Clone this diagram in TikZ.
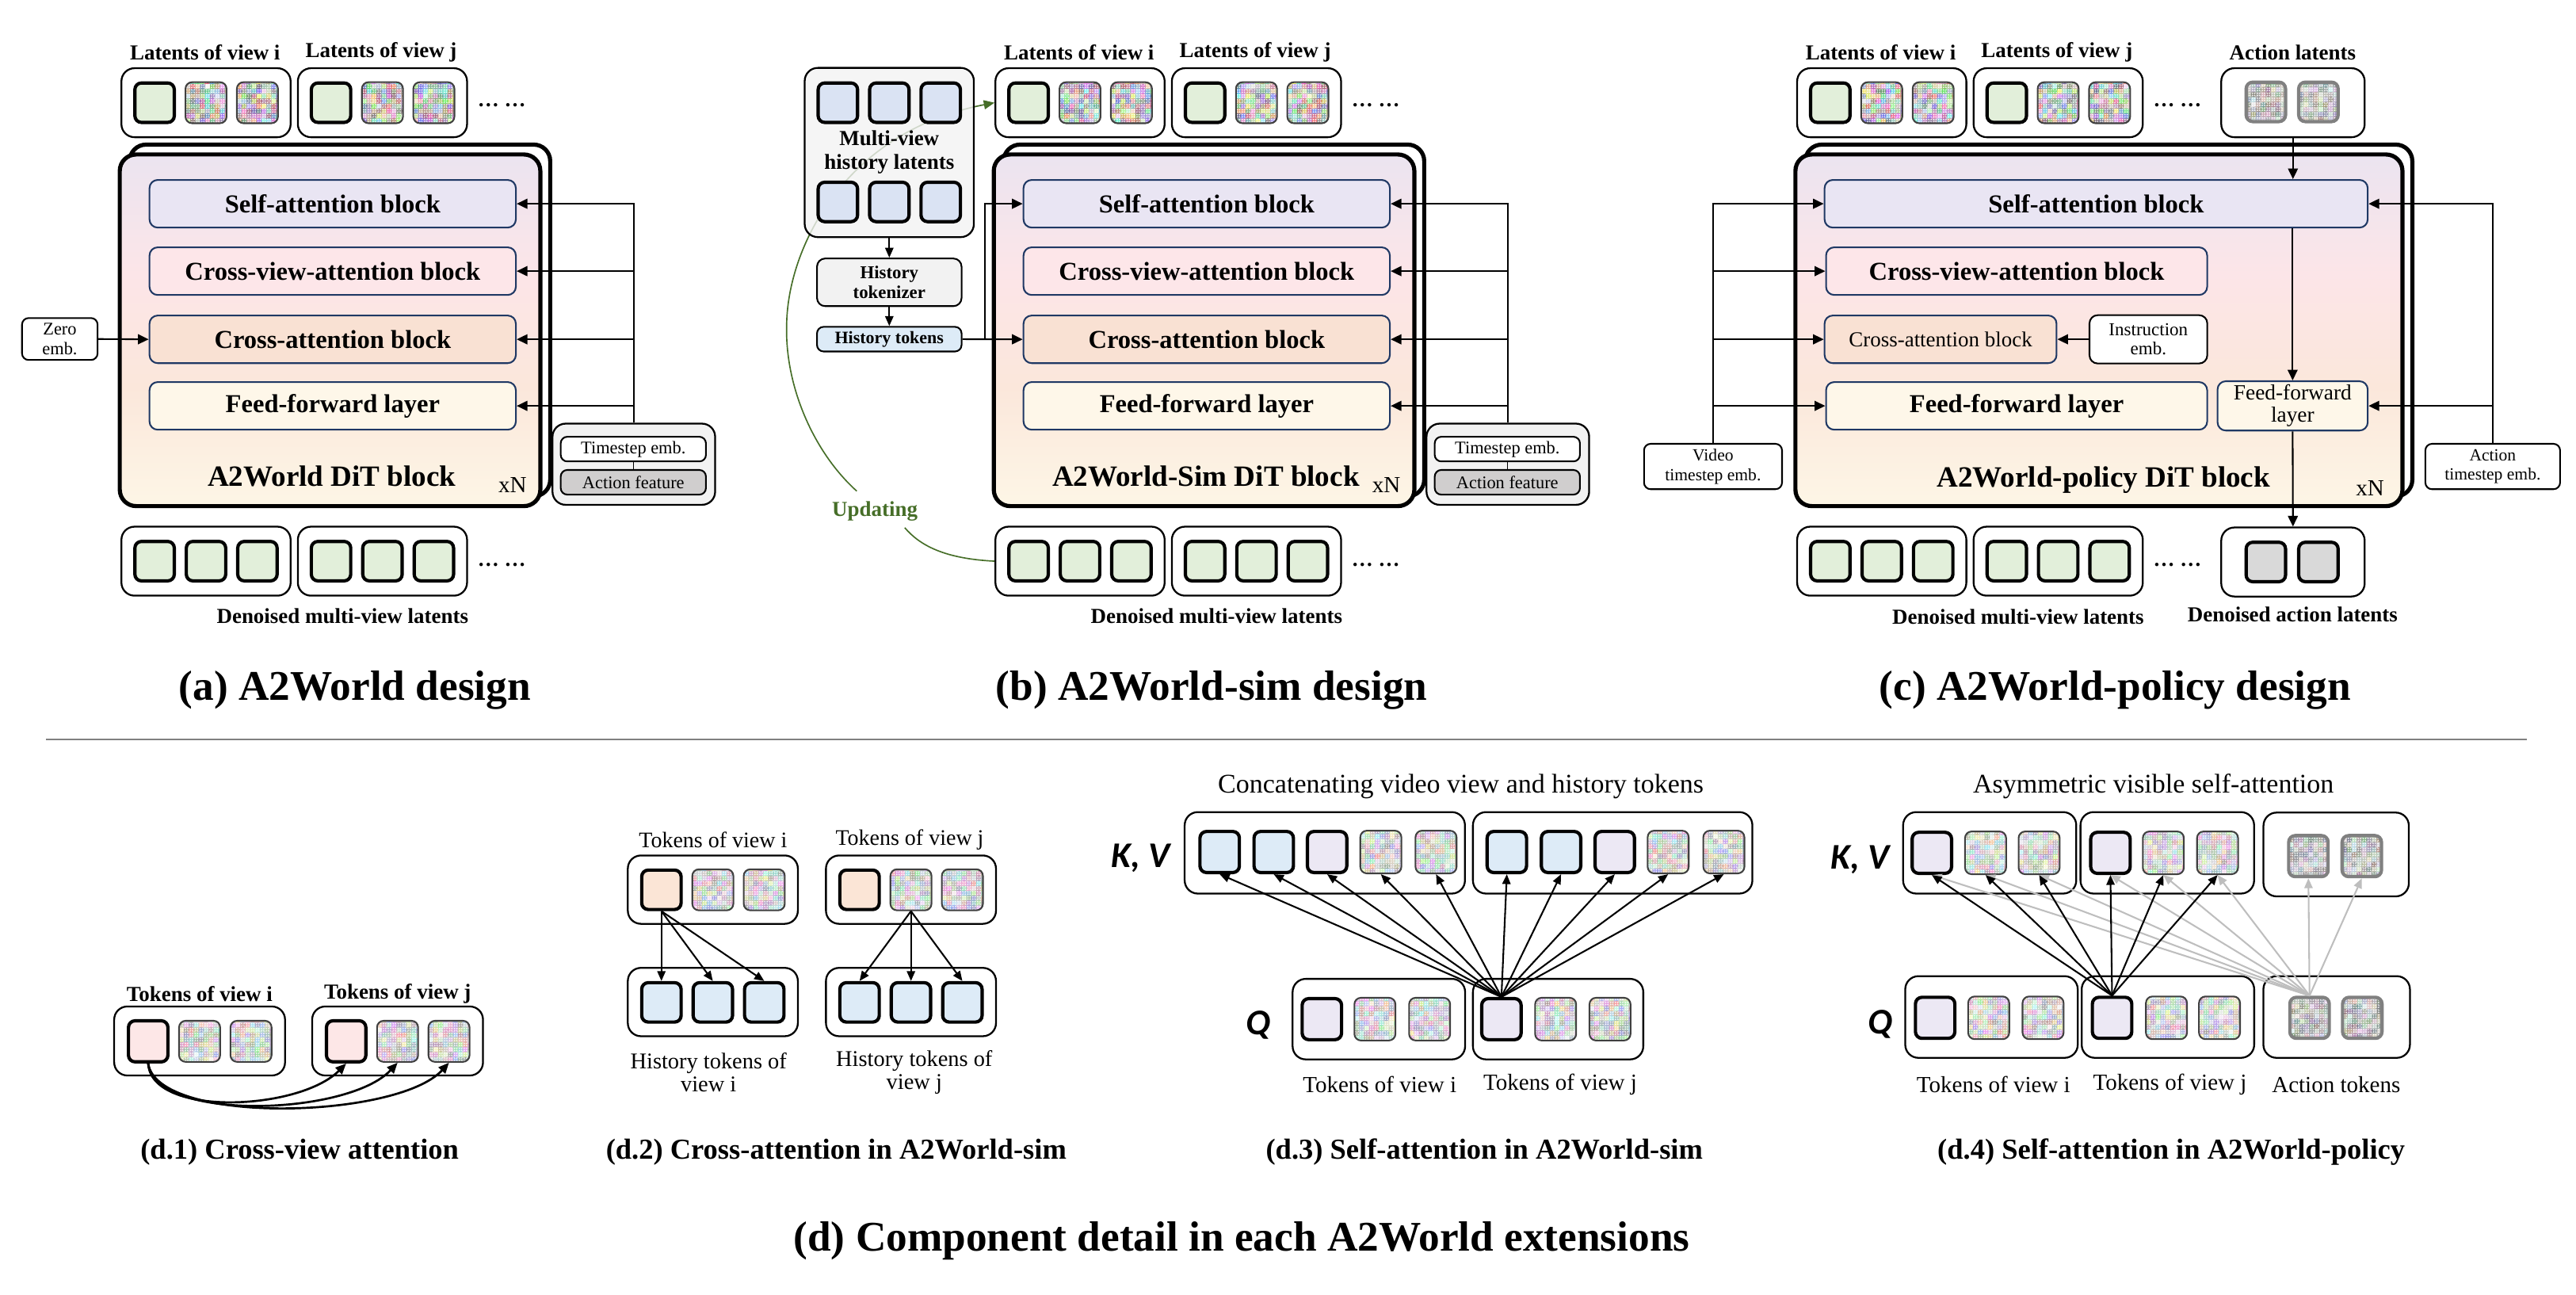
\documentclass[tikz,border=0pt]{standalone}
\usepackage{fontspec}
\setmainfont{Liberation Serif}
\newfontfamily\kvfont{Carlito}
\usetikzlibrary{arrows.meta, positioning, calc}

\definecolor{navy}{RGB}{31,56,100}
\definecolor{latgreen}{RGB}{226,239,218}
\definecolor{histblue}{RGB}{218,227,243}
\definecolor{tokblue}{RGB}{221,235,247}
\definecolor{peachtok}{RGB}{251,229,214}
\definecolor{pinktok}{RGB}{253,231,231}
\definecolor{lavtok}{RGB}{236,232,244}
\definecolor{panelgray}{RGB}{242,242,242}
\definecolor{featgray}{RGB}{208,206,206}
\definecolor{dagray}{RGB}{217,217,217}
\definecolor{updgreen}{RGB}{70,110,40}
\definecolor{lightarr}{RGB}{190,190,190}
\definecolor{rulegray}{RGB}{128,128,128}
\definecolor{saFill}{RGB}{233,229,243}
\definecolor{cvFill}{RGB}{253,230,233}
\definecolor{caFill}{RGB}{249,225,211}
\definecolor{ffFill}{RGB}{254,247,233}
\definecolor{ditlav}{RGB}{235,228,240}
\definecolor{ditpink}{RGB}{252,229,232}
\definecolor{ditpeach}{RGB}{251,231,219}
\definecolor{ditcream}{RGB}{253,246,230}

\pgfdeclareverticalshading{ditshade}{100bp}{color(0bp)=(ditcream); color(25bp)=(ditcream); color(42bp)=(ditpeach); color(58bp)=(ditpink); color(75bp)=(ditlav); color(100bp)=(ditlav)}

\tikzset{
  noise/.style={path picture={
      \foreach \ii in {0,...,8}{\foreach \jj in {0,...,8}{
          \pgfmathsetmacro{\nzr}{#1+(0.97-#1)*rnd}
          \pgfmathsetmacro{\nzg}{#1+(0.97-#1)*rnd}
          \pgfmathsetmacro{\nzb}{#1+(0.97-#1)*rnd}
          \definecolor{nzc}{rgb}{\nzr,\nzg,\nzb}
          \fill[nzc] ([shift={(\ii*3pt,\jj*3pt)}]path picture bounding box.south west) rectangle ++(3.1pt,3.1pt);
      }}}},
  noise/.default=0.4,
  gnoise/.style={path picture={
      \foreach \ii in {0,...,8}{\foreach \jj in {0,...,8}{
          \pgfmathsetmacro{\nzk}{0.45+0.3*rnd}
          \pgfmathsetmacro{\nzr}{min(1,\nzk+0.2*rnd)}
          \pgfmathsetmacro{\nzg}{min(1,\nzk+0.2*rnd)}
          \pgfmathsetmacro{\nzb}{min(1,\nzk+0.2*rnd)}
          \definecolor{nzc}{rgb}{\nzr,\nzg,\nzb}
          \fill[nzc] ([shift={(\ii*3pt,\jj*3pt)}]path picture bounding box.south west) rectangle ++(3.1pt,3.1pt);
      }}}}
}

\pgfmathsetseed{11}

\begin{document}
\begin{tikzpicture}[
  x = 1pt, y = -1pt,
  every node/.style = {inner sep=0pt},
  lblb/.style   = {font=\fontsize{13}{15}\selectfont\bfseries},
  lblr/.style   = {font=\fontsize{#1}{16}\selectfont},
  dots/.style   = {font=\fontsize{13}{15}\selectfont\bfseries},
  ttl/.style    = {font=\fontsize{25.7}{30}\selectfont\bfseries},
  subcap/.style = {font=\fontsize{17.6}{20}\selectfont\bfseries},
  kv/.style     = {font=\kvfont\fontsize{22}{26}\selectfont\bfseries\itshape},
  tbase/.style  = {rectangle, rounded corners=4pt, minimum width=24pt,
                   minimum height=24pt, inner sep=0pt},
  ftile/.style  = {tbase, draw=black, line width=2pt, fill=#1},
  ntile/.style  = {tbase, draw=black!75, line width=1pt, minimum width=25pt,
                   minimum height=25pt, noise=#1},
  ntile/.default = 0.4,
  atile/.style  = {tbase, draw=black!50, line width=2pt, gnoise},
  grp/.style    = {rectangle, draw=black, line width=1.1pt, rounded corners=8pt,
                   fill=white, minimum width=103pt, minimum height=42pt},
  blk/.style    = {rectangle, draw=navy, line width=1pt, rounded corners=5pt,
                   minimum width=223pt, minimum height=29pt,
                   font=\fontsize{15.7}{17}\selectfont\bfseries},
  embox/.style  = {rectangle, draw=black, line width=1pt, rounded corners=4pt,
                   fill=white, align=center, font=\fontsize{10.8}{11.8}\selectfont},
  ditback/.style  = {rectangle, draw=black, line width=2.5pt, rounded corners=10pt,
                     fill=white, minimum width=256pt, minimum height=214pt},
  ditfront/.style = {ditback, shade, shading=ditshade},
  dittl/.style  = {font=\fontsize{17.9}{20}\selectfont\bfseries},
  xn/.style     = {font=\fontsize{14}{16}\selectfont},
  arr/.style    = {-{Triangle[length=6.5pt, width=6pt]}, line width=1pt},
  sarr/.style   = {-{Triangle[length=6pt, width=5pt]}, line width=1pt},
  larr/.style   = {-{Triangle[length=6pt, width=5pt]}, line width=1pt, draw=lightarr},
  carr/.style   = {-{Triangle[length=6.5pt, width=5.5pt]}, line width=1.3pt},
  updarr/.style = {-{Triangle[length=6.5pt, width=5.5pt]}, draw=updgreen, line width=0.8pt}
]
\useasboundingbox (0,0) rectangle (1568,788);

% ================= (a) A2World design =================
\node[lblb] (aLi) at (124.8,32) {Latents of view i};
\node[lblb] (aLj) at (232,32) {Latents of view j};
\node[grp] (aTi) at (125.4,62.5) {};
\node[grp] (aTj) at (232.8,62.5) {};
\node[ftile=latgreen] (aTi1) at (94.1,62.5) {};
\node[ntile] (aTi2) at (125.4,62.5) {};
\node[ntile] (aTi3) at (156.7,62.5) {};
\node[ftile=latgreen] (aTj1) at (201.5,62.5) {};
\node[ntile] (aTj2) at (232.8,62.5) {};
\node[ntile] (aTj3) at (264.1,62.5) {};
\node[dots] (aTd) at (305.4,64) {\ldots\ \ldots};

\node[ditback]  (aDitB) at (206.9,195) {};
\node[ditfront] (aDit)  at (200.9,201) {};
\node[blk, fill=saFill] (aSA) at (202.5,124)   {Self-attention block};
\node[blk, fill=cvFill] (aCV) at (202.5,165)   {Cross-view-attention block};
\node[blk, fill=caFill] (aCA) at (202.5,206.5) {Cross-attention block};
\node[blk, fill=ffFill] (aFF) at (202.5,247)   {Feed-forward layer};
\node[dittl] (aName) at (202,290) {A2World DiT block};
\node[xn] (aXN) at (312,295) {xN};

\node[embox, minimum width=46pt, minimum height=25.5pt] (aZero) at (36.4,206.3) {Zero\\emb.};
\draw[arr] (aZero.east) -- (aCA.west);

\node[grp, fill=panelgray, minimum width=99pt, minimum height=49.4pt] (aGrp) at (385.8,282.5) {};
\node[embox, minimum width=88.4pt, minimum height=15pt] (aTs) at (385.5,273.3) {Timestep emb.};
\node[embox, fill=featgray, minimum width=88.4pt, minimum height=15pt] (aAf) at (385.5,293.5) {Action feature};
\draw (aTs.south) -- (aAf.north);
\draw[arr] (aGrp.north) |- (aSA.east);
\draw[arr] (aGrp.north |- aCV.east) -- (aCV.east);
\draw[arr] (aGrp.north |- aCA.east) -- (aCA.east);
\draw[arr] (aGrp.north |- aFF.east) -- (aFF.east);

\node[grp] (aBi) at (125.4,341.5) {};
\node[grp] (aBj) at (232.8,341.5) {};
\node[ftile=latgreen] (aBi1) at (94.1,341.5) {};
\node[ftile=latgreen] (aBi2) at (125.4,341.5) {};
\node[ftile=latgreen] (aBi3) at (156.7,341.5) {};
\node[ftile=latgreen] (aBj1) at (201.5,341.5) {};
\node[ftile=latgreen] (aBj2) at (232.8,341.5) {};
\node[ftile=latgreen] (aBj3) at (264.1,341.5) {};
\node[dots] (aBd) at (305.4,343.5) {\ldots\ \ldots};
\node[lblb] (aDen) at (208.5,375) {Denoised multi-view latents};
\node[ttl] (aCap) at (216,420) {(a) A2World design};

% ================= (b) A2World-sim design =================
\node[lblb] (bLi) at (656.8,32) {Latents of view i};
\node[lblb] (bLj) at (764,32) {Latents of view j};
\node[grp] (bTi) at (657.4,62.5) {};
\node[grp] (bTj) at (764.8,62.5) {};
\node[ftile=latgreen] (bTi1) at (626.1,62.5) {};
\node[ntile] (bTi2) at (657.4,62.5) {};
\node[ntile] (bTi3) at (688.7,62.5) {};
\node[ftile=latgreen] (bTj1) at (733.5,62.5) {};
\node[ntile] (bTj2) at (764.8,62.5) {};
\node[ntile] (bTj3) at (796.1,62.5) {};
\node[dots] (bTd) at (837.4,64) {\ldots\ \ldots};

\node[ditback]  (bDitB) at (738.9,195) {};
\node[ditfront] (bDit)  at (732.9,201) {};
\node[blk, fill=saFill] (bSA) at (734.5,124)   {Self-attention block};
\node[blk, fill=cvFill] (bCV) at (734.5,165)   {Cross-view-attention block};
\node[blk, fill=caFill] (bCA) at (734.5,206.5) {Cross-attention block};
\node[blk, fill=ffFill] (bFF) at (734.5,247)   {Feed-forward layer};
\node[dittl] (bName) at (734,290) {A2World-Sim DiT block};
\node[xn] (bXN) at (843.8,295.4) {xN};

\node[grp, fill=panelgray, minimum width=99pt, minimum height=49.4pt] (bGrp) at (917.8,282.5) {};
\node[embox, minimum width=88.4pt, minimum height=15pt] (bTs) at (917.5,273.3) {Timestep emb.};
\node[embox, fill=featgray, minimum width=88.4pt, minimum height=15pt] (bAf) at (917.5,293.5) {Action feature};
\draw (bTs.south) -- (bAf.north);
\draw[arr] (bGrp.north) |- (bSA.east);
\draw[arr] (bGrp.north |- bCV.east) -- (bCV.east);
\draw[arr] (bGrp.north |- bCA.east) -- (bCA.east);
\draw[arr] (bGrp.north |- bFF.east) -- (bFF.east);

\node[grp] (bBi) at (657.4,341.5) {};
\node[grp] (bBj) at (764.8,341.5) {};
\node[ftile=latgreen] (bBi1) at (626.1,341.5) {};
\node[ftile=latgreen] (bBi2) at (657.4,341.5) {};
\node[ftile=latgreen] (bBi3) at (688.7,341.5) {};
\node[ftile=latgreen] (bBj1) at (733.5,341.5) {};
\node[ftile=latgreen] (bBj2) at (764.8,341.5) {};
\node[ftile=latgreen] (bBj3) at (796.1,341.5) {};
\node[dots] (bBd) at (837.4,343.5) {\ldots\ \ldots};
\node[lblb] (bDen) at (740.5,375) {Denoised multi-view latents};
\node[ttl] (bCap) at (737.5,420) {(b) A2World-sim design};

% updating loop runs under the history panel
\node[lblb, text=updgreen] (bUpd) at (532.5,311) {Updating};
\draw[updgreen, line width=0.8pt] (bBi.west) .. controls (575,340) and (560,332) .. ($(bUpd.south east)+(-8,4)$);
\draw[updarr] ($(bUpd.north)+(-11,-6)$) .. controls (495,275) and (478,235) .. (478.8,198.7)
  .. controls (479,150) and (515,80) .. (bTi.west);

\node[grp, fill=panelgray, fill opacity=0.8, text opacity=1, minimum width=103pt,
      minimum height=103pt, align=center, font=\fontsize{13}{14.5}\selectfont\bfseries]
      (bHist) at (541.3,92.8) {Multi-view\\history latents};
\node[ftile=histblue] (bHt1) at (510,62.5) {};
\node[ftile=histblue] (bHt2) at (541.3,62.5) {};
\node[ftile=histblue] (bHt3) at (572.6,62.5) {};
\node[ftile=histblue] (bHb1) at (510,122.9) {};
\node[ftile=histblue] (bHb2) at (541.3,122.9) {};
\node[ftile=histblue] (bHb3) at (572.6,122.9) {};
\node[embox, fill=panelgray, rounded corners=5pt, minimum width=88pt, minimum height=29pt,
      font=\fontsize{11}{11.8}\selectfont\bfseries] (bHtk) at (541.3,171.8) {History\\tokenizer};
\node[embox, fill=tokblue, minimum width=88pt, minimum height=15pt,
      font=\fontsize{10.6}{11}\selectfont\bfseries] (bHts) at (541.3,206.4) {History tokens};
\draw[sarr] (bHist.south) -- (bHtk.north);
\draw[sarr] (bHtk.south) -- (bHts.north);
\coordinate (bJn) at (599.4,206.4);
\draw[arr] (bHts.east) -- (bCA.west);
\draw[arr] (bJn) |- (bSA.west);

% ================= (c) A2World-policy design =================
\node[lblb] (cLi) at (1144.8,32) {Latents of view i};
\node[lblb] (cLj) at (1252,32) {Latents of view j};
\node[lblb] (cLa) at (1395.5,32) {Action latents};
\node[grp] (cTi) at (1145.4,62.5) {};
\node[grp] (cTj) at (1252.8,62.5) {};
\node[grp, minimum width=87.3pt] (cTa) at (1395.7,62.5) {};
\node[ftile=latgreen] (cTi1) at (1114.1,62.5) {};
\node[ntile] (cTi2) at (1145.4,62.5) {};
\node[ntile] (cTi3) at (1176.7,62.5) {};
\node[ftile=latgreen] (cTj1) at (1221.5,62.5) {};
\node[ntile] (cTj2) at (1252.8,62.5) {};
\node[ntile] (cTj3) at (1284.1,62.5) {};
\node[atile] (cTa1) at (1379.2,62) {};
\node[atile] (cTa2) at (1411.2,62) {};
\node[dots] (cTd) at (1325.4,64) {\ldots\ \ldots};

\node[ditback, minimum width=369.5pt]  (cDitB) at (1283.6,195) {};
\node[ditfront, minimum width=369.5pt] (cDit)  at (1277.6,201) {};
\node[blk, fill=saFill, minimum width=330.6pt] (cSA) at (1275.9,124) {Self-attention block};
\node[blk, fill=cvFill, minimum width=232pt] (cCV) at (1227.5,165) {Cross-view-attention block};
\node[blk, fill=caFill, minimum width=141.2pt, font=\fontsize{13}{14}\selectfont] (cCA) at (1181.2,206.5) {Cross-attention block};
\node[embox, minimum width=71.7pt, minimum height=29.4pt, rounded corners=5pt,
      font=\fontsize{11.1}{11.6}\selectfont] (cIns) at (1307.7,206.5) {Instruction\\emb.};
\node[blk, fill=ffFill, minimum width=232pt] (cFF) at (1227.5,247) {Feed-forward layer};
\node[blk, fill=ffFill, minimum width=91.4pt, minimum height=30pt, align=center,
      font=\fontsize{13.2}{13.5}\selectfont] (cFFs) at (1395.5,247) {Feed-forward\\layer};
\node[dittl] (cName) at (1280.4,292) {A2World-policy DiT block};
\node[xn] (cXN) at (1442.6,297) {xN};

\node[embox, minimum width=84pt, minimum height=27.6pt, font=\fontsize{10.4}{11.8}\selectfont]
      (cVts) at (1042.7,283.9) {Video\\timestep emb.};
\node[embox, minimum width=82pt, minimum height=27.6pt, font=\fontsize{10.4}{11.8}\selectfont]
      (cAts) at (1517.3,283.9) {Action\\timestep emb.};

\node[grp] (cBi) at (1145.4,341.5) {};
\node[grp] (cBj) at (1252.8,341.5) {};
\node[grp, minimum width=87.3pt] (cDa) at (1395.7,342) {};
\node[ftile=latgreen] (cBi1) at (1114.1,341.5) {};
\node[ftile=latgreen] (cBi2) at (1145.4,341.5) {};
\node[ftile=latgreen] (cBi3) at (1176.7,341.5) {};
\node[ftile=latgreen] (cBj1) at (1221.5,341.5) {};
\node[ftile=latgreen] (cBj2) at (1252.8,341.5) {};
\node[ftile=latgreen] (cBj3) at (1284.1,341.5) {};
\node[ftile=dagray] (cDa1) at (1379.2,342) {};
\node[ftile=dagray] (cDa2) at (1411.2,342) {};
\node[dots] (cBd) at (1325.4,343.5) {\ldots\ \ldots};
\node[lblb] (cDen) at (1228.4,375.4) {Denoised multi-view latents};
\node[lblb] (cDal) at (1395.5,374) {Denoised action latents};
\node[ttl] (cCap) at (1287.5,420) {(c) A2World-policy design};

\draw[arr] (cTa.south) -- (cTa.south |- cSA.north);
\draw[arr] (cSA.south -| cFFs) -- (cFFs.north);
\draw[arr] (cFFs.south) -- (cDa.north);
\draw[arr] (cVts.north) |- (cSA.west);
\draw[arr] (cVts.north |- cCV.west) -- (cCV.west);
\draw[arr] (cVts.north |- cCA.west) -- (cCA.west);
\draw[arr] (cVts.north |- cFF.west) -- (cFF.west);
\draw[arr] (cAts.north) |- (cSA.east);
\draw[arr] (cAts.north |- cFFs.east) -- (cFFs.east);
\draw[arr] (cIns.west) -- (cCA.east);

% ---- separator ----
\draw[rulegray, line width=1.4pt] (28,450) -- (1538,450);

% ================= (d.1) cross-view attention =================
\node[lblb] (p1Li) at (121.5,604.8) {Tokens of view i};
\node[lblb] (p1Lj) at (242,604.8) {Tokens of view j};
\node[grp, minimum width=104pt] (p1Bi) at (121.5,633.5) {};
\node[grp, minimum width=104pt] (p1Bj) at (242,633.5) {};
\node[ftile=pinktok, minimum height=25pt] (p1i1) at (90.2,633.7) {};
\node[ntile=0.6] (p1i2) at (121.5,633.7) {};
\node[ntile=0.6] (p1i3) at (152.8,633.7) {};
\node[ftile=pinktok, minimum height=25pt] (p1j1) at (210.7,633.7) {};
\node[ntile=0.6] (p1j2) at (242,633.7) {};
\node[ntile=0.6] (p1j3) at (273.3,633.7) {};
\draw[carr] (p1i1.south) .. controls (92,680) and (182,676) .. (p1j1.south);
\draw[carr] (p1i1.south) .. controls (94,683) and (212,679) .. (p1j2.south);
\draw[carr] (p1i1.south) .. controls (96,685) and (242,681) .. (p1j3.south);
\node[subcap] (p1Cap) at (182.4,701) {(d.1) Cross-view attention};

% ================= (d.2) cross-attention =================
\node[lblr=13.5] (p2Li) at (434,511) {Tokens of view i};
\node[lblr=13.5] (p2Lj) at (553.7,511) {Tokens of view j};
\node[grp, minimum width=103.5pt, minimum height=41.6pt] (p2Ti) at (433.9,541.4) {};
\node[grp, minimum width=103.5pt, minimum height=41.6pt] (p2Tj) at (554.5,541.4) {};
\node[ftile=peachtok] (p2ti1) at (402.6,541.5) {};
\node[ntile=0.6] (p2ti2) at (433.9,541.5) {};
\node[ntile=0.6] (p2ti3) at (465.2,541.5) {};
\node[ftile=peachtok] (p2tj1) at (523.2,541.5) {};
\node[ntile=0.6] (p2tj2) at (554.5,541.5) {};
\node[ntile=0.6] (p2tj3) at (585.8,541.5) {};
\node[grp, minimum width=103.5pt, minimum height=41.6pt] (p2Bi) at (433.9,609.8) {};
\node[grp, minimum width=103.5pt, minimum height=41.6pt] (p2Bj) at (554.5,609.8) {};
\node[ftile=tokblue] (p2bi1) at (402.6,610) {};
\node[ftile=tokblue] (p2bi2) at (433.9,610) {};
\node[ftile=tokblue] (p2bi3) at (465.2,610) {};
\node[ftile=tokblue] (p2bj1) at (523.2,610) {};
\node[ftile=tokblue] (p2bj2) at (554.5,610) {};
\node[ftile=tokblue] (p2bj3) at (585.8,610) {};
\draw[sarr] (p2ti1.south) -- (p2bi1.north);
\draw[sarr] (p2ti1.south) -- (p2bi2.north);
\draw[sarr] (p2ti1.south) -- (p2bi3.north);
\draw[sarr] (p2tj2.south) -- (p2bj1.north);
\draw[sarr] (p2tj2.south) -- (p2bj2.north);
\draw[sarr] (p2tj2.south) -- (p2bj3.north);
\node[align=center, font=\fontsize{13.7}{13.6}\selectfont] (p2Hi) at (431.3,652.6) {History tokens of\\view i};
\node[align=center, font=\fontsize{13.7}{13.6}\selectfont] (p2Hj) at (556.5,652.6) {History tokens of\\view j};
\node[subcap] (p2Cap) at (509,701) {(d.2) Cross-attention in A2World-sim};

% ================= (d.3) self-attention, sim =================
\node[lblr=16.4] (p3T) at (889.2,478.5) {Concatenating video view and history tokens};
\node[kv] (p3KV) at (694.5,522) {K, V};
\node[kv] (p3Q) at (766,623.6) {Q};
\node[grp, minimum width=170.6pt, minimum height=49.6pt] (p3Ki) at (806.4,519) {};
\node[grp, minimum width=170.1pt, minimum height=49.6pt] (p3Kj) at (981.6,519) {};
\node[ftile=tokblue, minimum height=25pt] (p3ki1) at (742.4,518.5) {};
\node[ftile=tokblue, minimum height=25pt] (p3ki2) at (775.3,518.5) {};
\node[ftile=lavtok, minimum height=25pt] (p3ki3) at (807.8,518.5) {};
\node[ntile=0.6, minimum height=26pt] (p3ki4) at (840.5,518.5) {};
\node[ntile=0.6, minimum height=26pt] (p3ki5) at (874.1,518.5) {};
\node[ftile=tokblue, minimum height=25pt] (p3kj1) at (917.2,518.5) {};
\node[ftile=tokblue, minimum height=25pt] (p3kj2) at (950.2,518.5) {};
\node[ftile=lavtok, minimum height=25pt] (p3kj3) at (982.9,518.5) {};
\node[ntile=0.6, minimum height=26pt] (p3kj4) at (1015.4,518.5) {};
\node[ntile=0.6, minimum height=26pt] (p3kj5) at (1049.3,518.5) {};
\node[grp, minimum width=105pt, minimum height=49pt] (p3Qi) at (839.3,620.2) {};
\node[grp, minimum width=103.7pt, minimum height=49pt] (p3Qj) at (948.4,620.2) {};
\node[ftile=lavtok, minimum height=25pt] (p3qi1) at (804.6,620.2) {};
\node[ntile=0.6, minimum height=26pt] (p3qi2) at (836.9,620.2) {};
\node[ntile=0.6, minimum height=26pt] (p3qi3) at (870.2,620.2) {};
\node[ftile=lavtok, minimum height=25pt] (p3qj1) at (913.9,620.2) {};
\node[ntile=0.6, minimum height=26pt] (p3qj2) at (946.9,620.2) {};
\node[ntile=0.6, minimum height=26pt] (p3qj3) at (980,620.2) {};
\foreach \tgt in {p3ki1,p3ki2,p3ki3,p3ki4,p3ki5,p3kj1,p3kj2,p3kj3,p3kj4,p3kj5}
  \draw[sarr] (p3qj1.north) -- (\tgt.south);
\node[lblr=14] (p3Li) at (839.8,660) {Tokens of view i};
\node[lblr=14] (p3Lj) at (949.7,660) {Tokens of view j};
\node[subcap] (p3Cap) at (903.5,701) {(d.3) Self-attention in A2World-sim};

% ================= (d.4) self-attention, policy =================
\node[lblr=16.4] (p4T) at (1310.8,478.5) {Asymmetric visible self-attention};
\node[kv] (p4KV) at (1132.2,523) {K, V};
\node[kv] (p4Q) at (1144.7,623.4) {Q};
\node[grp, minimum width=105.4pt, minimum height=49.6pt] (p4Ki) at (1211.1,519) {};
\node[grp, minimum width=105.7pt, minimum height=49.6pt] (p4Kj) at (1319.2,519) {};
\node[grp, minimum width=88.5pt, minimum height=51pt] (p4Ka) at (1422,520) {};
\node[ftile=lavtok, minimum height=25pt] (p4ki1) at (1175.9,519) {};
\node[ntile=0.6, minimum height=26pt] (p4ki2) at (1208.6,519) {};
\node[ntile=0.6, minimum height=26pt] (p4ki3) at (1241.2,519) {};
\node[ftile=lavtok, minimum height=25pt] (p4kj1) at (1284.6,519) {};
\node[ntile=0.6, minimum height=26pt] (p4kj2) at (1316.8,519) {};
\node[ntile=0.6, minimum height=26pt] (p4kj3) at (1349.8,519) {};
\node[atile, minimum height=25pt] (p4ka1) at (1405.1,521) {};
\node[atile, minimum height=25pt] (p4ka2) at (1437.6,521) {};
\node[grp, minimum width=105pt, minimum height=49.7pt] (p4Qi) at (1212.2,618.9) {};
\node[grp, minimum width=105pt, minimum height=49.7pt] (p4Qj) at (1319.6,618.9) {};
\node[grp, minimum width=89.2pt, minimum height=49.7pt] (p4Qa) at (1422.3,618.9) {};
\node[ftile=lavtok, minimum height=25pt] (p4qi1) at (1177.9,619.4) {};
\node[ntile=0.6, minimum height=26pt] (p4qi2) at (1210.5,619.4) {};
\node[ntile=0.6, minimum height=26pt] (p4qi3) at (1243.6,619.4) {};
\node[ftile=lavtok, minimum height=25pt] (p4qj1) at (1285.6,619.4) {};
\node[ntile=0.6, minimum height=26pt] (p4qj2) at (1318.7,619.4) {};
\node[ntile=0.6, minimum height=26pt] (p4qj3) at (1351,619.4) {};
\node[atile, minimum height=25pt] (p4qa1) at (1405.8,619.4) {};
\node[atile, minimum height=25pt] (p4qa2) at (1437.9,619.4) {};
% action tokens see everything, video tokens only see video
\foreach \tgt in {p4ki1,p4ki2,p4ki3,p4kj1,p4kj2,p4kj3,p4ka1,p4ka2}
  \draw[larr] (p4qa1.north) -- (\tgt.south);
\foreach \tgt in {p4ki1,p4ki2,p4ki3,p4kj1,p4kj2,p4kj3}
  \draw[sarr] (p4qj1.north) -- (\tgt.south);
\node[lblr=14] (p4Li) at (1213.4,660) {Tokens of view i};
\node[lblr=14] (p4Lj) at (1320.8,660) {Tokens of view j};
\node[lblr=14] (p4La) at (1422,660) {Action tokens};
\node[subcap] (p4Cap) at (1321.6,701) {(d.4) Self-attention in A2World-policy};

\node[ttl] (dCap) at (755.8,755) {(d) Component detail in each A2World extensions};

\end{tikzpicture}
\end{document}
